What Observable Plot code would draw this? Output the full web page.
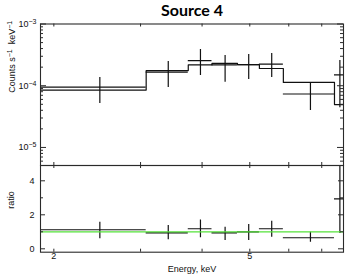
<!DOCTYPE html>
<html><head><meta charset="utf-8">
<script src="https://cdn.jsdelivr.net/npm/d3@7"></script>
<script src="https://cdn.jsdelivr.net/npm/@observablehq/plot@0.6"></script>
<style>
body{margin:0;background:#fff;}
#wrap{position:relative;width:354px;height:279px;overflow:hidden;background:#fff;}
#title{position:absolute;left:92px;width:200px;top:0px;text-align:center;font:bold 16px Lato,"Open Sans",sans-serif;color:#000;line-height:19px;}
#topPanel,#botPanel{position:absolute;left:0;}
#topPanel{top:0;}
#botPanel{top:165px;}
</style></head><body>
<div id="wrap"><div id="title">Source 4</div><div id="topPanel"></div><div id="botPanel"></div></div>
<script>
// Energy bins (keV)
const binLo  = [1.88, 3.08, 3.75, 4.19, 4.72, 5.23, 5.85, 7.43];
const binHi  = [3.08, 3.75, 4.19, 4.72, 5.23, 5.85, 7.43, 7.81];
const binMid = [2.48, 3.415, 3.97, 4.455, 4.975, 5.54, 6.64, 7.62];
// Counts s^-1 keV^-1
const model    = [8.5e-5, 1.76e-4, 2.17e-4, 2.31e-4, 2.2e-4, 1.9e-4, 1.13e-4, 4.95e-5];
const counts   = [9.5e-5, 1.66e-4, 2.56e-4, 2.17e-4, 2.2e-4, 2.24e-4, 7.35e-5, 1.5e-4];
const countsLo = [5.15e-5, 9.35e-5, 1.46e-4, 1.14e-4, 1.26e-4, 1.36e-4, 3.96e-5, 4.4e-5];
const countsHi = [1.36e-4, 2.47e-4, 3.86e-4, 3.09e-4, 3.21e-4, 3.33e-4, 1.09e-4, 2.56e-4];
// ratio data / model
const ratio   = [1.12, 0.94, 1.18, 0.94, 1.00, 1.18, 0.65, 2.94];
const ratioLo = [0.59, 0.53, 0.65, 0.49, 0.49, 0.68, 0.39, 0.90];
const ratioHi = [1.56, 1.37, 1.70, 1.27, 1.43, 1.62, 0.98, 5.20];
// ticks
const xTicks = [2, 3, 4, 5, 6, 7];
const xTickLabels = ["2", "5"];
const xTickLabelVals = [2, 5];
const yMajor = [1e-5, 1e-4, 1e-3];
const yMajorLabels = ["10^{−5}", "10^{−4}", "10^{−3}"];
const yMinor = [6e-6, 7e-6, 8e-6, 9e-6, 2e-5, 3e-5, 4e-5, 5e-5, 6e-5, 7e-5, 8e-5, 9e-5,
                2e-4, 3e-4, 4e-4, 5e-4, 6e-4, 7e-4, 8e-4, 9e-4];
const rMajor = [0, 2, 4];
const rMajorLabels = ["0", "2", "4"];
const rMinor = [1, 3];
const yLabelTop = "Counts s^{−1}  keV^{−1}";
const yLabelBot = "ratio";
const xLabel = "Energy, keV";

const W = 354, ML = 40, MR = 11;
const FW = W - ML - MR;
const xDomain = [1.879, 7.75];
const ink = "#111", frameInk = "#2a2a2a";
const font = {fontFamily: "'Liberation Sans', Arial, sans-serif", fontSize: "9px", background: "transparent", overflow: "visible"};

const bins = binLo.map((lo, i) => ({lo, hi: binHi[i], mid: binMid[i], model: model[i], c: counts[i], cLo: countsLo[i], cHi: countsHi[i],
  r: ratio[i], rLo: ratioLo[i], rHi: ratioHi[i]}));
const step = bins.map(b => ({x: b.lo, y: b.model})).concat([{x: bins[bins.length - 1].hi, y: bins[bins.length - 1].model}]);

function supify(svg) {
  svg.querySelectorAll("text").forEach(t => {
    const s = t.textContent;
    if (!s.includes("^{")) return;
    const parts = s.split(/(\^\{[^}]*\})/).filter(p => p);
    t.textContent = "";
    parts.forEach(p => {
      const m = p.match(/^\^\{(.*)\}$/);
      const ts = document.createElementNS("http://www.w3.org/2000/svg", "tspan");
      ts.textContent = m ? m[1] : p;
      if (m) { ts.setAttribute("baseline-shift", "super"); ts.setAttribute("font-size", "7px"); }
      t.appendChild(ts);
    });
  });
}

// Top panel
const TH = 166, TMT = 23.5, TMB = 1;
const TFH = TH - TMT - TMB;
const topPlot = Plot.plot({
  width: W, height: TH, marginTop: TMT, marginBottom: TMB, marginLeft: ML, marginRight: MR,
  style: font,
  x: {type: "log", domain: xDomain, axis: null},
  y: {type: "log", domain: [5.1e-6, 1e-3], axis: null},
  marks: [
    Plot.line(step, {x: "x", y: "y", curve: "step-after", stroke: ink, strokeWidth: 1.2, clip: true}),
    Plot.ruleY(bins, {y: "c", x1: "lo", x2: "hi", stroke: ink, strokeWidth: 1.2, clip: true}),
    Plot.ruleX(bins, {x: "mid", y1: "cLo", y2: "cHi", stroke: ink, strokeWidth: 1.2, clip: true}),
    Plot.tickX(xTicks, {x: d => d, insetBottom: TFH - 3, stroke: frameInk}),
    Plot.tickX(xTicks, {x: d => d, insetTop: TFH - 3, stroke: frameInk}),
    Plot.tickY(yMajor, {y: d => d, insetRight: FW - 6, stroke: frameInk}),
    Plot.tickY(yMajor, {y: d => d, insetLeft: FW - 6, stroke: frameInk}),
    Plot.tickY(yMinor, {y: d => d, insetRight: FW - 3, stroke: frameInk}),
    Plot.tickY(yMinor, {y: d => d, insetLeft: FW - 3, stroke: frameInk}),
    Plot.frame({stroke: frameInk, strokeWidth: 1.1}),
    Plot.text(yMajor, {y: d => d, text: (d, i) => yMajorLabels[i], frameAnchor: "left", textAnchor: "end", dx: -4, fill: "#111"}),
    Plot.text([yLabelTop], {text: d => d, frameAnchor: "left", rotate: -90, dx: -28, dy: -2, fill: "#111"})
  ]
});
supify(topPlot);
document.getElementById("topPanel").appendChild(topPlot);

// Bottom panel
const BH = 114, BMT = 0, BMB = 27.3;
const BFH = BH - BMT - BMB;
const botPlot = Plot.plot({
  width: W, height: BH, marginTop: BMT, marginBottom: BMB, marginLeft: ML, marginRight: MR,
  style: font,
  x: {type: "log", domain: xDomain, axis: null},
  y: {domain: [-0.2, 4.9], axis: null},
  marks: [
    Plot.ruleY(bins, {y: "r", x1: "lo", x2: "hi", stroke: ink, strokeWidth: 1.2, clip: true}),
    Plot.ruleX(bins, {x: "mid", y1: "rLo", y2: "rHi", stroke: ink, strokeWidth: 1.2, clip: true}),
    Plot.ruleY([1], {stroke: "#55e23a", strokeWidth: 1.3}),
    Plot.tickX(xTicks, {x: d => d, insetBottom: BFH - 3, stroke: frameInk}),
    Plot.tickX(xTicks, {x: d => d, insetTop: BFH - 3, stroke: frameInk}),
    Plot.tickY(rMajor, {y: d => d, insetRight: FW - 5, stroke: frameInk}),
    Plot.tickY(rMajor, {y: d => d, insetLeft: FW - 5, stroke: frameInk}),
    Plot.tickY(rMinor, {y: d => d, insetRight: FW - 3, stroke: frameInk}),
    Plot.tickY(rMinor, {y: d => d, insetLeft: FW - 3, stroke: frameInk}),
    Plot.frame({stroke: frameInk, strokeWidth: 1.1}),
    Plot.text(rMajor, {y: d => d, text: (d, i) => rMajorLabels[i], frameAnchor: "left", textAnchor: "end", dx: -6, fill: "#111"}),
    Plot.text(xTickLabelVals, {x: d => d, text: (d, i) => xTickLabels[i], frameAnchor: "bottom", dy: 7, fill: "#111"}),
    Plot.text([xLabel], {text: d => d, frameAnchor: "bottom", dy: 20, fill: "#111"}),
    Plot.text([yLabelBot], {text: d => d, frameAnchor: "left", rotate: -90, dx: -29, fill: "#111"})
  ]
});
document.getElementById("botPanel").appendChild(botPlot);
</script>
</body></html>
